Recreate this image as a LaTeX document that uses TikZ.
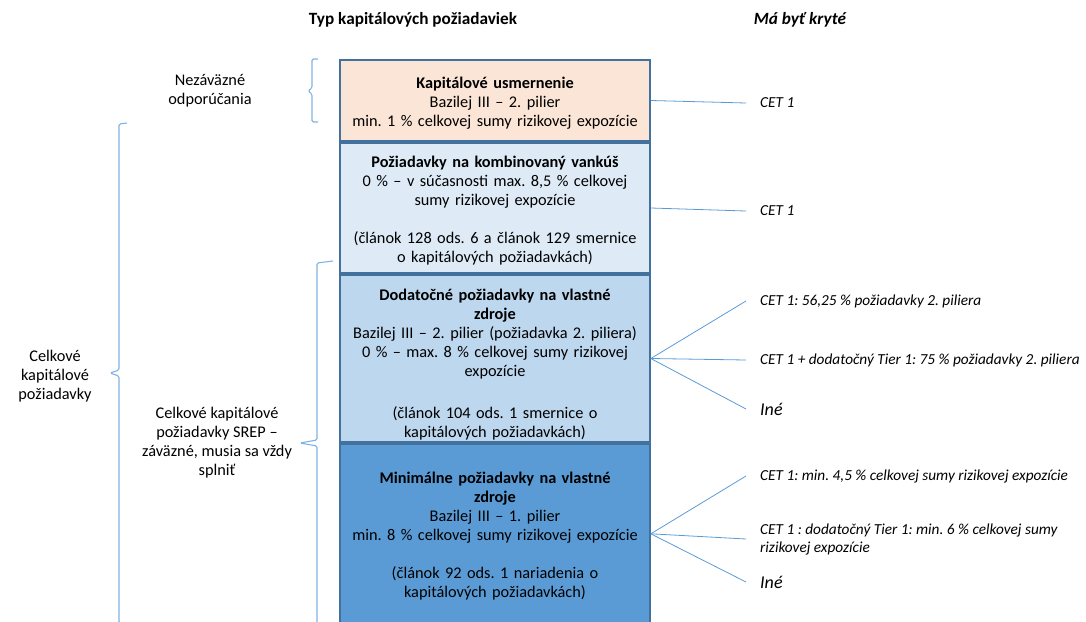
\documentclass[tikz,border=0pt]{standalone}
\usepackage{fontspec}
\setmainfont{Carlito}
\usetikzlibrary{positioning}
\definecolor{cpeach}{HTML}{FBE5D6}
\definecolor{cpale}{HTML}{DEEBF7}
\definecolor{clight}{HTML}{BDD7EE}
\definecolor{cmid}{HTML}{5B9BD5}
\definecolor{cedge}{HTML}{41719C}
\definecolor{cline}{HTML}{5B9BD5}
\definecolor{cbrace}{HTML}{7FB2E5}
\newcommand\reqfont{\fontsize{16.3}{19}\selectfont\frenchspacing}
\newcommand\coverfont{\fontsize{15.3}{18}\selectfont\itshape\frenchspacing}
\newcommand\inefont{\fontsize{18}{20}\selectfont\itshape}
\newcommand\headfont{\fontsize{17.2}{20}\selectfont\bfseries}
\tikzset{
  reqbox/.style={draw=cedge, line width=1.6pt, minimum width=310pt, text width=306pt,
                 align=center, inner sep=0pt, font=\reqfont, text=black,
                 execute at begin node=\rule{0pt}{17pt}},
  cover/.style={anchor=west, inner xsep=14pt, inner ysep=2pt, align=left, font=\coverfont},
  side/.style={align=center, font=\reqfont},
  head/.style={font=\headfont},
  link/.style={draw=cline, line width=0.8pt},
  bracket/.style={draw=cbrace, line width=1.1pt, rounded corners=1.5pt},
}
\begin{document}
\begin{tikzpicture}[x=1pt, y=-1pt]
  \useasboundingbox (0,0) rectangle (1086,621);
  % headings
  \node[head] (h1) at (413,20) {Typ kapitálových požiadaviek};
  \node[head, font=\headfont\itshape] (h2) at (800,20) {Má byť kryté};
  % stacked requirement boxes
  \node[reqbox, fill=cpeach, minimum height=81.4pt, anchor=north] (b1) at (495,59)
    {{\bfseries Kapitálové usmernenie}\\Bazilej III – 2. pilier\\min. 1 \% celkovej sumy rizikovej expozície};
  \node[reqbox, fill=cpale, minimum height=130.4pt, below=0pt of b1] (b2)
    {{\bfseries Požiadavky na kombinovaný vankúš}\\0 \% – v súčasnosti max. 8,5 \% celkovej\\sumy rizikovej expozície\\[19pt]
     (článok 128 ods. 6 a článok 129 smernice\\o kapitálových požiadavkách)};
  \node[reqbox, fill=clight, minimum height=167.4pt, below=0pt of b2] (b3)
    {\rule{0pt}{24pt}{\bfseries Dodatočné požiadavky na vlastné}\\{\bfseries zdroje}\\Bazilej III – 2. pilier (požiadavka 2. piliera)\\0 \% – max. 8 \% celkovej sumy rizikovej\\expozície\\[23pt]
     (článok 104 ods. 1 smernice o\\kapitálových požiadavkách)};
  \node[reqbox, fill=cmid, minimum height=180pt, below=0pt of b3] (b4)
    {{\bfseries Minimálne požiadavky na vlastné}\\{\bfseries zdroje}\\Bazilej III – 1. pilier\\min. 8 \% celkovej sumy rizikovej expozície\\[19pt]
     (článok 92 ods. 1 nariadenia o\\kapitálových požiadavkách)};
  % what covers each layer
  \node[cover] (c1) at (746,103) {CET 1};
  \node[cover] (c2) at (746,211) {CET 1};
  \node[cover] (c3a) at (746,301) {CET 1: 56,25 \% požiadavky 2. piliera};
  \node[cover] (c3b) at (746,360) {CET 1 + dodatočný Tier 1: 75 \% požiadavky 2. piliera};
  \node[cover, font=\inefont] (c3c) at (746,409) {Iné};
  \node[cover] (c4a) at (746,476) {CET 1: min. 4,5 \% celkovej sumy rizikovej expozície};
  \node[cover] (c4b) at (746,539) {CET 1 : dodatočný Tier 1: min. 6 \% celkovej sumy\\rizikovej expozície};
  \node[cover, font=\inefont] (c4c) at (746,582) {Iné};
  \draw[link] (b1.east) -- (c1.west);
  \draw[link] (b2.east) -- (c2.west);
  \foreach \t in {c3a,c3b,c3c}
     \draw[link] (b3.east) -- (\t.west);
  \foreach \t in {c4a,c4b,c4c}
     \draw[link] (b4.east) -- (\t.west);
  % left side groups
  \node[side] (nez) at (210,91) {Nezáväzné\\odporúčania};
  \node[side] (celk) at (55,376) {Celkové\\kapitálové\\požiadavky};
  \node[side] (srep) at (217,443) {Celkové kapitálové\\požiadavky SREP –\\záväzné, musia sa vždy\\splniť};
  \draw[bracket] (318,59) -- (312,59) -- (312,88) -- (308,91) -- (312,94) -- (312,122) -- (318,122);
  \draw[bracket] (127,123) -- (119,124) -- (119,370) -- (110,373) -- (119,376) -- (119,623) -- (127,623);
  \draw[bracket] (333,261) -- (317,263) -- (317,440) -- (300,443) -- (317,446) -- (317,626) -- (333,626);
\end{tikzpicture}
\end{document}
